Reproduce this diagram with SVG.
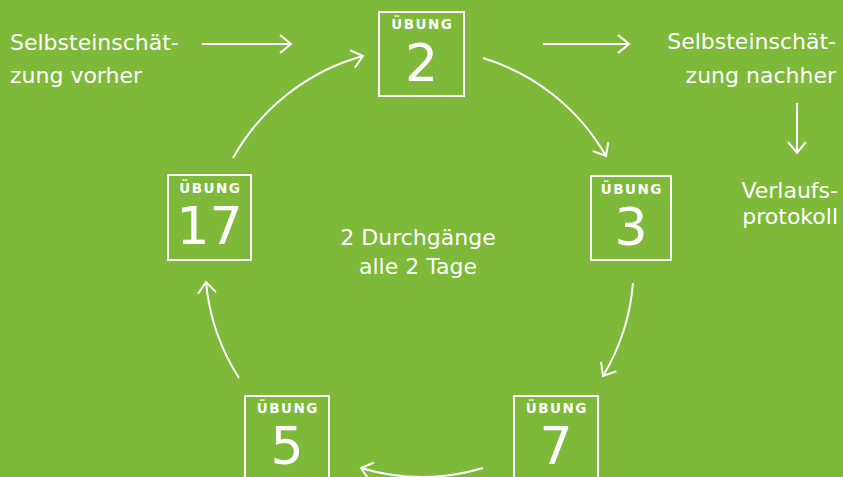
<svg xmlns="http://www.w3.org/2000/svg" width="843" height="477" viewBox="0 0 843 477">
<style>
.bg{fill:#7eb939}
.box{fill:none;stroke:#fff;stroke-width:2}
.lbl{font-family:"DejaVu Sans","Liberation Sans",sans-serif;font-weight:bold;font-size:13.5px;letter-spacing:1.5px;fill:#fff;text-anchor:middle}
.num{font-family:"DejaVu Sans","Liberation Sans",sans-serif;font-size:52px;fill:#fff;text-anchor:middle}
.txt{font-family:"DejaVu Sans","Liberation Sans",sans-serif;font-size:22px;fill:#fff}
.con{fill:none;stroke:#fff;stroke-width:2}
</style>
<defs>
<marker id="ah" markerUnits="userSpaceOnUse" markerWidth="30" markerHeight="30" refX="0" refY="0" viewBox="-15 -15 30 30" orient="auto" overflow="visible">
<path d="M-11,-9 L0,0 L-11,9" fill="none" stroke="#fff" stroke-width="2"/>
</marker>
</defs>
<rect class="bg" x="0" y="0" width="843" height="477"/>
<g id="connectors">
<path class="con" d="M202,44 H291" marker-end="url(#ah)"/>
<path class="con" d="M543,44 H629" marker-end="url(#ah)"/>
<path class="con" d="M797,103 V153" marker-end="url(#ah)"/>
<path class="con" d="M233,158 A214,214 0 0 1 363,56" marker-end="url(#ah)"/>
<path class="con" d="M483,58 A214,214 0 0 1 606,156" marker-end="url(#ah)"/>
<path class="con" d="M633,283 A214,214 0 0 1 603,376" marker-end="url(#ah)"/>
<path class="con" d="M483,468 A214,214 0 0 1 361,468" marker-end="url(#ah)"/>
<path class="con" d="M239,378 A214,214 0 0 1 206,282" marker-end="url(#ah)"/>
</g>
<g id="n2">
<rect class="box" x="379" y="12" width="85" height="84"/>
<text class="lbl" x="422.25" y="29">ÜBUNG</text>
<text class="num" x="421.5" y="81">2</text>
</g>
<g id="n3">
<rect class="box" x="591" y="176" width="80" height="84"/>
<text class="lbl" x="631.75" y="194">ÜBUNG</text>
<text class="num" x="631" y="245">3</text>
</g>
<g id="n7">
<rect class="box" x="514" y="396" width="84" height="90"/>
<text class="lbl" x="556.75" y="413">ÜBUNG</text>
<text class="num" x="556" y="464">7</text>
</g>
<g id="n5">
<rect class="box" x="245" y="396" width="84" height="90"/>
<text class="lbl" x="287.75" y="413">ÜBUNG</text>
<text class="num" x="287" y="464">5</text>
</g>
<g id="n17">
<rect class="box" x="168" y="175" width="83" height="85"/>
<text class="lbl" x="210.25" y="193">ÜBUNG</text>
<text class="num" x="209.5" y="244">17</text>
</g>
<g id="pre">
<text class="txt" x="10" y="50">Selbsteinschät-</text>
<text class="txt" x="10" y="83">zung vorher</text>
</g>
<g id="post">
<text class="txt" x="836" y="49" text-anchor="end">Selbsteinschät-</text>
<text class="txt" x="836" y="83" text-anchor="end">zung nachher</text>
</g>
<g id="protocol">
<text class="txt" x="838" y="198" text-anchor="end">Verlaufs-</text>
<text class="txt" x="838" y="224" text-anchor="end">protokoll</text>
</g>
<g id="center">
<text class="txt" x="418" y="245" text-anchor="middle">2 Durchgänge</text>
<text class="txt" x="418" y="274" text-anchor="middle">alle 2 Tage</text>
</g>
</svg>
